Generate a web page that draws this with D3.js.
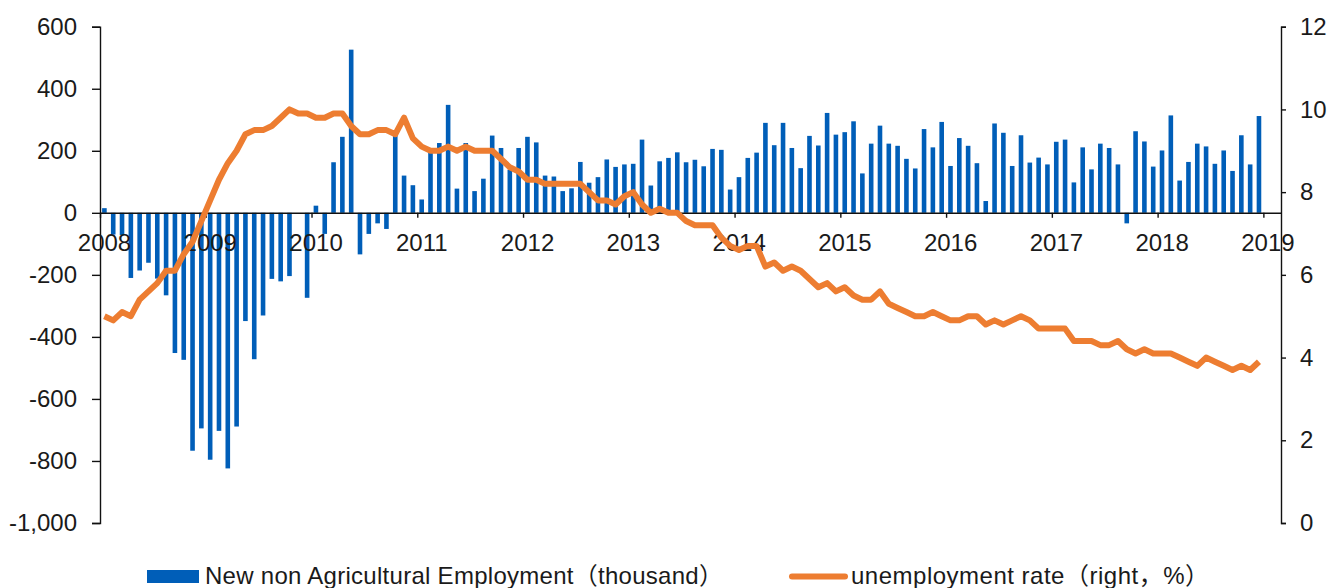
<!DOCTYPE html>
<html>
<head>
<meta charset="utf-8">
<script src="https://cdn.jsdelivr.net/npm/d3@7"></script>
<style>
  body { margin: 0; background: #fff; }
  text { font-family: "Liberation Sans", Arial, "Noto Sans CJK SC", sans-serif; fill: #1a1a1a; }
</style>
</head>
<body>
<svg id="chart" width="1331" height="588"></svg>
<script>
// monthly data, Jan 2008 .. Dec 2018
var yearLabels = ["2008", "2009", "2010", "2011", "2012", "2013", "2014", "2015", "2016", "2017", "2018", "2019"];

// new non-farm payrolls, thousand
var payrolls = [
  15, -70, -72, -210, -186, -161, -212, -266, -452, -474, -767, -695,
  -796, -703, -824, -689, -349, -472, -331, -213, -221, -204, 0, -274,
  23, -68, 163, 245, 526, -134, -68, -34, -52, 252, 120, 89,
  43, 193, 225, 348, 78, 225, 70, 110, 249, 209, 139, 209,
  245, 227, 120, 117, 70, 79, 164, 97, 115, 172, 148, 156,
  158, 236, 88, 166, 177, 195, 163, 171, 150, 206, 203, 75,
  115, 177, 194, 290, 218, 290, 209, 144, 248, 217, 322, 252,
  260, 295, 127, 223, 281, 223, 216, 174, 143, 270, 211, 293,
  151, 241, 216, 160, 38, 288, 258, 151, 250, 162, 178, 156,
  229, 236, 98, 211, 140, 223, 209, 156, -34, 263, 230, 149,
  201, 314, 104, 164, 223, 214, 158, 201, 135, 250, 156, 312
];

// unemployment rate, %
var unemployment = [
  5.0, 4.9, 5.1, 5.0, 5.4, 5.6, 5.8, 6.1, 6.1, 6.5, 6.8, 7.3,
  7.8, 8.3, 8.7, 9.0, 9.4, 9.5, 9.5, 9.6, 9.8, 10.0, 9.9, 9.9,
  9.8, 9.8, 9.9, 9.9, 9.6, 9.4, 9.4, 9.5, 9.5, 9.4, 9.8, 9.3,
  9.1, 9.0, 9.0, 9.1, 9.0, 9.1, 9.0, 9.0, 9.0, 8.8, 8.6, 8.5,
  8.3, 8.3, 8.2, 8.2, 8.2, 8.2, 8.2, 8.0, 7.8, 7.8, 7.7, 7.9,
  8.0, 7.7, 7.5, 7.6, 7.5, 7.5, 7.3, 7.2, 7.2, 7.2, 6.9, 6.7,
  6.6, 6.7, 6.7, 6.2, 6.3, 6.1, 6.2, 6.1, 5.9, 5.7, 5.8, 5.6,
  5.7, 5.5, 5.4, 5.4, 5.6, 5.3, 5.2, 5.1, 5.0, 5.0, 5.1, 5.0,
  4.9, 4.9, 5.0, 5.0, 4.8, 4.9, 4.8, 4.9, 5.0, 4.9, 4.7, 4.7,
  4.7, 4.7, 4.4, 4.4, 4.4, 4.3, 4.3, 4.4, 4.2, 4.1, 4.2, 4.1,
  4.1, 4.1, 4.0, 3.9, 3.8, 4.0, 3.9, 3.8, 3.7, 3.8, 3.7, 3.9
];

var leftTicks = [-1000, -800, -600, -400, -200, 0, 200, 400, 600];
var rightTicks = [0, 2, 4, 6, 8, 10, 12];
var legendLabels = ["New non Agricultural Employment（thousand）", "unemployment rate（right，%）"];

var blue = "#005eb8", orange = "#ed7d31";

var svg = d3.select("#chart");

// x: month index, a bit of room after Dec 2018 like the original
var x = d3.scaleLinear().domain([0, 134]).range([100, 1281]);
var yL = d3.scaleLinear().domain([-1000, 600]).range([523, 26.7]);
var yR = d3.scaleLinear().domain([0, 12]).range([523, 26.7]);

var fmt = function(d) { return d3.format(",")(d).replace("\u2212", "-"); };

// bars
svg.append("g")
    .selectAll("rect")
    .data(payrolls)
    .enter()
    .append("rect")
    .attr("x", function(d, i) { return x(i + 0.5) - 2.3; })
    .attr("width", 4.6)
    .attr("y", function(d) { return yL(Math.max(0, d)); })
    .attr("height", function(d) { return Math.abs(yL(d) - yL(0)); })
    .attr("fill", blue);

// left axis
var gL = svg.append("g")
    .attr("transform", "translate(100,0)")
    .call(d3.axisLeft(yL).tickValues(leftTicks).tickFormat(fmt).tickSize(8).tickSizeOuter(8).tickPadding(15));

// right axis
var gR = svg.append("g")
    .attr("transform", "translate(1281,0)")
    .call(d3.axisRight(yR).tickValues(rightTicks).tickSize(5).tickSizeOuter(5).tickPadding(14));

// bottom axis on the zero line
var gB = svg.append("g")
    .attr("transform", "translate(0," + yL(0) + ")")
    .call(d3.axisBottom(x)
        .tickValues(yearLabels.map(function(d, i) { return i * 12; }))
        .tickFormat(function(d) { return yearLabels[d / 12]; })
        .tickSize(5).tickSizeOuter(0).tickPadding(16.5));

gB.selectAll("text").attr("dx", 4);

[gL, gR, gB].forEach(function(g) {
  g.select(".domain").attr("stroke", "#111").attr("stroke-width", 1.4);
  g.selectAll(".tick line").attr("stroke", "#111").attr("stroke-width", 1.4);
  g.selectAll("text").attr("font-size", "24px").attr("fill", "#1a1a1a")
      .attr("font-family", "'Liberation Sans', Arial, sans-serif");
});

// unemployment line
var line = d3.line()
    .x(function(d, i) { return x(i + 0.5); })
    .y(function(d) { return yR(d); });

svg.append("path")
    .datum(unemployment)
    .attr("d", line)
    .attr("fill", "none")
    .attr("stroke", orange)
    .attr("stroke-width", 6)
    .attr("stroke-linejoin", "round");

// legend
var legend = svg.append("g");
legend.append("rect")
    .attr("x", 147).attr("y", 570).attr("width", 52).attr("height", 13)
    .attr("fill", blue);
legend.append("text")
    .attr("x", 205).attr("y", 584)
    .attr("font-size", "24px")
    .attr("textLength", 518)
    .text(legendLabels[0]);
legend.append("line")
    .attr("x1", 792).attr("x2", 845).attr("y1", 576.5).attr("y2", 576.5)
    .attr("stroke", orange).attr("stroke-width", 6).attr("stroke-linecap", "round");
legend.append("text")
    .attr("x", 851).attr("y", 584)
    .attr("font-size", "24px")
    .attr("textLength", 358)
    .text(legendLabels[1]);
</script>
</body>
</html>
